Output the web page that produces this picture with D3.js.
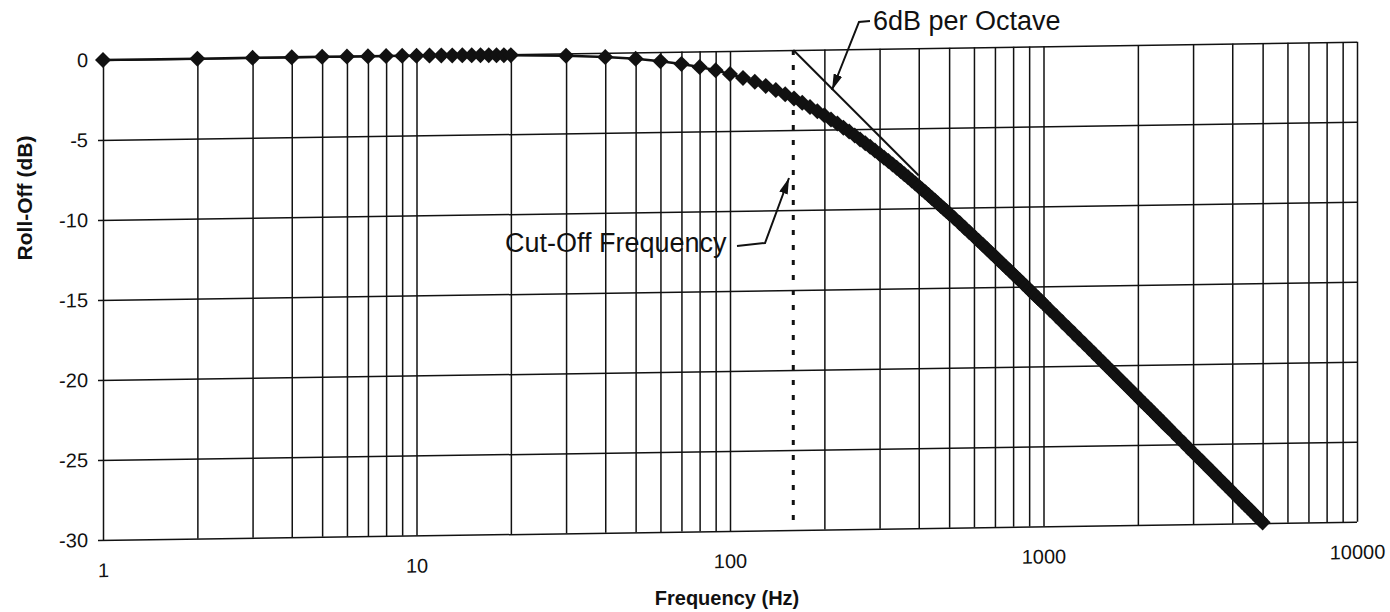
<!DOCTYPE html>
<html><head><meta charset="utf-8">
<script src="https://cdn.jsdelivr.net/npm/d3@7"></script>
<style>html,body{margin:0;padding:0;background:#fff;}svg{display:block;font-family:"Liberation Sans",Arial,sans-serif;}</style>
</head><body>
<svg id="chart" width="1390" height="612"></svg>
<script>
// ---- data ----
const passFreq = [1,2,3,4,5,6,7,8,9,10,11,12,13,14,15,16,17,18,19,20,30,40,50,60,70,80,90,100];
const passDb   = [0,0,0,0,0,-0.01,-0.01,-0.01,-0.01,-0.02,-0.02,-0.02,-0.03,-0.03,-0.04,-0.04,-0.05,-0.06,-0.06,-0.07,-0.15,-0.27,-0.41,-0.58,-0.77,-0.98,-1.20,-1.45];
const kneeFreq = [110,120,130,140,150,160,170,180,190,200,210,220,230,240,250,260,270,280,290,300,310,320,330,340,350,360,370,380,390,400,410,420,430,440,450,460,470,480,490,500];
const kneeDb   = [-1.70,-1.95,-2.22,-2.49,-2.76,-3.03,-3.31,-3.58,-3.85,-4.11,-4.38,-4.64,-4.90,-5.15,-5.40,-5.65,-5.89,-6.12,-6.36,-6.58,-6.81,-7.03,-7.24,-7.45,-7.66,-7.87,-8.06,-8.26,-8.45,-8.64,-8.83,-9.01,-9.19,-9.37,-9.54,-9.71,-9.88,-10.04,-10.20,-10.36];
const slopeFreqA = [520,540,560,580,600,620,640,660,680,700,720,740,760,780,800,820,840,860,880,900,920,940,960,980,1000];
const slopeDbA   = [-10.67,-10.97,-11.27,-11.55,-11.82,-12.09,-12.35,-12.60,-12.85,-13.08,-13.32,-13.55,-13.77,-13.98,-14.19,-14.40,-14.60,-14.80,-14.99,-15.18,-15.37,-15.55,-15.73,-15.90,-16.07];
const slopeFreqB = [1050,1100,1150,1200,1250,1300,1350,1400,1450,1500,1550,1600,1650,1700,1750,1800,1850,1900,1950,2000,2050,2100,2150,2200,2250,2300,2350,2400,2450,2500];
const slopeDbB   = [-16.49,-16.88,-17.26,-17.62,-17.97,-18.31,-18.63,-18.94,-19.24,-19.53,-19.82,-20.09,-20.35,-20.61,-20.86,-21.10,-21.34,-21.57,-21.79,-22.01,-22.23,-22.43,-22.64,-22.83,-23.03,-23.22,-23.40,-23.59,-23.77,-23.94];
const slopeFreqC = [2600,2700,2800,2900,3000,3100,3200,3300,3400,3500,3600,3700,3800,3900,4000,4100,4200,4300,4400,4500,4600,4700,4800,4900,5000];
const slopeDbC   = [-24.28,-24.61,-24.92,-25.23,-25.52,-25.80,-26.08,-26.34,-26.60,-26.85,-27.10,-27.34,-27.57,-27.79,-28.01,-28.23,-28.44,-28.64,-28.84,-29.03,-29.22,-29.41,-29.59,-29.77,-29.95];

const asymptoteFreq = [159.15, 400];
const asymptoteDb   = [0, -7.96];
const cutoffFreq = 159.15;

const gridFreqs = [1,2,3,4,5,6,7,8,9,10,20,30,40,50,60,70,80,90,100,200,300,400,500,600,700,800,900,1000,2000,3000,4000,5000,6000,7000,8000,9000,10000];
const xTickLabels = [1,10,100,1000,10000];
const yTicks = [0,-5,-10,-15,-20,-25,-30];

const xTitle = "Frequency (Hz)";
const yTitle = "Roll-Off (dB)";
const cutoffLabel = "Cut-Off Frequency";
const slopeLabel = "6dB per Octave";

// ---- layout ----
const L = 103, R = 1357, T = 60, B = 540;
const ink = "#111";

const svg = d3.select("#chart");
const x = d3.scaleLog().domain([1, 10000]).range([L, R]);
const y = d3.scaleLinear().domain([-30, 0]).range([B, T]);

// scanned page is slightly sheared; reproduce with a skew
const shear = 0.0145;
const g = svg.append("g").attr("transform", `matrix(1,${-shear},0,1,0,${shear * L})`);

// y grid + labels
const yAxis = g.append("g").attr("transform", `translate(${L},0)`)
  .call(d3.axisLeft(y).tickValues(yTicks).tickSizeInner(-(R - L)).tickSizeOuter(0).tickPadding(15).tickFormat(d => String(d)));
yAxis.select(".domain").remove();
yAxis.selectAll("line").attr("x1", -5).attr("stroke", ink).attr("stroke-width", 1.5);
yAxis.selectAll("text").attr("font-size", 20).attr("fill", ink);

// x grid + labels
const xAxis = g.append("g").attr("transform", `translate(0,${B})`)
  .call(d3.axisBottom(x).tickValues(gridFreqs).tickSizeInner(-(B - T)).tickSizeOuter(0).tickPadding(23)
    .tickFormat(d => xTickLabels.includes(d) ? String(d) : ""));
xAxis.select(".domain").remove();
xAxis.selectAll("line").attr("stroke", ink).attr("stroke-width", 1.5);
xAxis.selectAll("text").attr("font-size", 20).attr("fill", ink);

// cut-off dashed line
g.append("line")
  .attr("x1", x(cutoffFreq)).attr("x2", x(cutoffFreq))
  .attr("y1", y(0)).attr("y2", y(-30))
  .attr("stroke", ink).attr("stroke-width", 3).attr("stroke-dasharray", "5,10");

// series
const freqs = [].concat(passFreq, kneeFreq, slopeFreqA, slopeFreqB, slopeFreqC);
const dbs = [].concat(passDb, kneeDb, slopeDbA, slopeDbB, slopeDbC);
const pts = freqs.map((f, i) => [f, dbs[i]]);

g.append("path").datum(pts)
  .attr("fill", "none").attr("stroke", ink).attr("stroke-width", 2.5)
  .attr("d", d3.line().x(d => x(d[0])).y(d => y(d[1])));

const sym = d3.symbol().type(d3.symbolSquare).size(128);
g.append("g").selectAll("path").data(pts).join("path")
  .attr("d", sym)
  .attr("fill", ink)
  .attr("transform", d => `translate(${x(d[0])},${y(d[1])}) rotate(45)`);

// 6 dB/octave asymptote
g.append("path").datum(asymptoteFreq.map((f, i) => [f, asymptoteDb[i]]))
  .attr("fill", "none").attr("stroke", ink).attr("stroke-width", 2)
  .attr("d", d3.line().x(d => x(d[0])).y(d => y(d[1])));

// ---- annotations ----
const defs = svg.append("defs");
defs.append("marker").attr("id", "arr").attr("viewBox", "0 0 16 9")
  .attr("markerWidth", 16).attr("markerHeight", 9).attr("refX", 16).attr("refY", 4.5)
  .attr("orient", "auto").attr("markerUnits", "userSpaceOnUse")
  .append("path").attr("d", "M0,0L16,4.5L0,9Z").attr("fill", ink);

svg.append("polyline").attr("points", "737,246 765,243 789,178")
  .attr("fill", "none").attr("stroke", ink).attr("stroke-width", 2).attr("marker-end", "url(#arr)");
svg.append("text").attr("x", 505).attr("y", 252).attr("font-size", 27).attr("fill", ink).text(cutoffLabel);

svg.append("polyline").attr("points", "870,21 859,22 832,90")
  .attr("fill", "none").attr("stroke", ink).attr("stroke-width", 2).attr("marker-end", "url(#arr)");
svg.append("text").attr("x", 873).attr("y", 30).attr("font-size", 27).attr("fill", ink).text(slopeLabel);

// axis titles
svg.append("text").attr("transform", "translate(32,198) rotate(-90)")
  .attr("text-anchor", "middle").attr("font-size", 21).attr("font-weight", "bold").attr("fill", ink).text(yTitle);
svg.append("text").attr("x", 727).attr("y", 605)
  .attr("text-anchor", "middle").attr("font-size", 20).attr("font-weight", "bold").attr("fill", ink).text(xTitle);
</script>
</body></html>
